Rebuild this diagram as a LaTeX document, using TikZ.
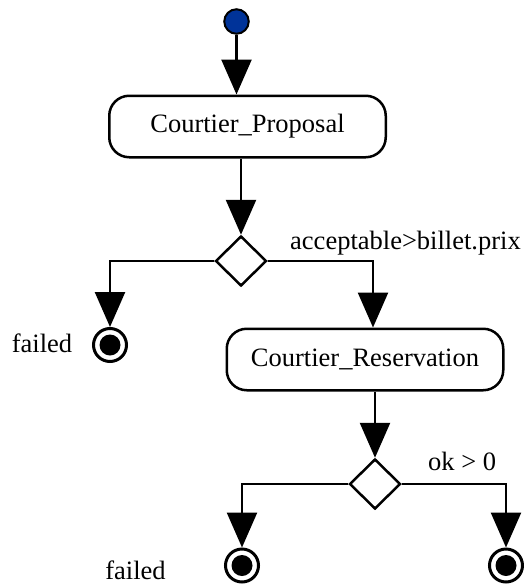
\documentclass[tikz,border=0pt]{standalone}
\usepackage{fontspec}
\setmainfont{Liberation Serif}
\usetikzlibrary{shapes.geometric,arrows.meta}
\definecolor{initblue}{RGB}{0,51,153}
\begin{document}
\begin{tikzpicture}[x=1pt,y=-1pt,
  every node/.style={font=\fontsize{26.5}{30}\selectfont},
  action/.style={draw, line width=2.5pt, rounded corners=20pt,
    minimum width=276.5pt, minimum height=61.5pt, inner sep=0pt},
  choice/.style={draw, diamond, line width=2.5pt, aspect=1,
    minimum width=51pt, minimum height=50pt, inner sep=0pt},
  start/.style={circle, draw, line width=2pt, fill=initblue,
    minimum size=24.5pt, inner sep=0pt},
  stop/.style={circle, draw, line width=3pt, minimum size=33pt, inner sep=0pt,
    path picture={\fill (path picture bounding box.center) circle (10.5pt);}},
  guard/.style={anchor=base west, inner sep=0pt},
  flow/.style={line width=2.5pt, -{Triangle[length=35pt,width=30pt]}}
]
\useasboundingbox (0,0) rectangle (523,584);

% states and activities
\node[start]  (init) at (236.5,21.5) {};
\node[action] (p1)   at (247.5,126.5) {Courtier\_Proposal};
\node[choice] (d1)   at (241,261) {};
\node[stop]   (f1)   at (110,345) {};
\node[action] (p2)   at (365,359.5) {Courtier\_Reservation};
\node[choice] (d2)   at (375,484) {};
\node[stop]   (f2)   at (242,565.5) {};
\node[stop]   (f3)   at (506,565.5) {};

% labels
\node[guard] (g1) at (290,249) {acceptable>billet.prix};
\node[guard] (g2) at (428,470) {ok > 0};
\node[anchor=base, inner sep=0pt] (l1) at (42,352) {failed};
\node[anchor=base, inner sep=0pt] (l2) at (135.5,579) {failed};

% transitions
\draw[flow] (init) -- (init |- p1.north);
\draw[flow] (d1.north |- p1.south) -- (d1.north);
\draw[flow] (d1.west) -| (f1.north);
\draw[flow] (d1.east) -| ([xshift=8pt]p2.north);
\draw[flow] (d2.north |- p2.south) -- (d2.north);
\draw[flow] (d2.west) -| (f2.north);
\draw[flow] (d2.east) -| (f3.north);
\end{tikzpicture}
\end{document}
